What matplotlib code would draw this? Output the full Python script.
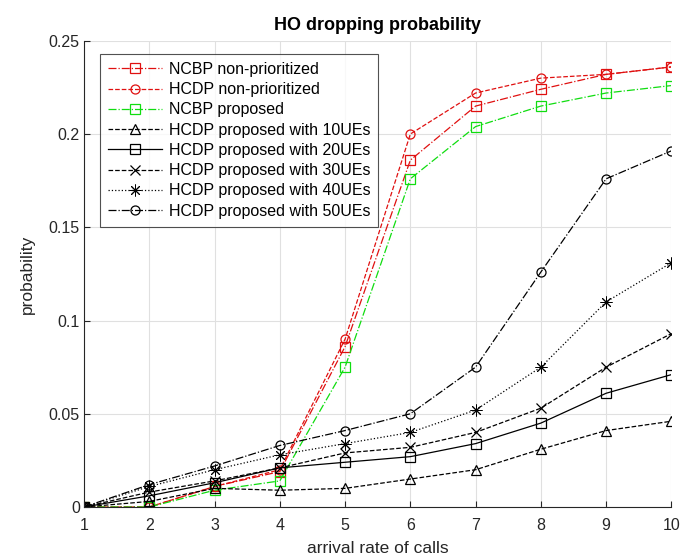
import matplotlib
matplotlib.use("Agg")
import matplotlib.pyplot as plt

plt.rcParams['font.family'] = ['Liberation Sans', 'DejaVu Sans']

x = [1, 2, 3, 4, 5, 6, 7, 8, 9, 10]
ncbp_nonprio = [0, 0.000, 0.011, 0.019, 0.086, 0.186, 0.215, 0.224, 0.232, 0.236]
hcdp_nonprio = [0, 0.000, 0.011, 0.020, 0.090, 0.200, 0.222, 0.230, 0.232, 0.236]
ncbp_prop = [0, 0.000, 0.009, 0.014, 0.075, 0.176, 0.204, 0.215, 0.222, 0.226]
hcdp_10 = [0, 0.003, 0.010, 0.009, 0.010, 0.015, 0.020, 0.031, 0.041, 0.046]
hcdp_20 = [0, 0.006, 0.013, 0.021, 0.024, 0.027, 0.034, 0.045, 0.061, 0.071]
hcdp_30 = [0, 0.008, 0.014, 0.021, 0.029, 0.032, 0.040, 0.053, 0.075, 0.093]
hcdp_40 = [0, 0.011, 0.020, 0.028, 0.034, 0.040, 0.052, 0.075, 0.110, 0.131]
hcdp_50 = [0, 0.012, 0.022, 0.033, 0.041, 0.050, 0.075, 0.126, 0.176, 0.191]

labels = ['NCBP non-prioritized', 'HCDP non-prioritized', 'NCBP proposed',
          'HCDP proposed with 10UEs', 'HCDP proposed with 20UEs',
          'HCDP proposed with 30UEs', 'HCDP proposed with 40UEs',
          'HCDP proposed with 50UEs']
xticks = [1, 2, 3, 4, 5, 6, 7, 8, 9, 10]
yticks = [0, 0.05, 0.1, 0.15, 0.2, 0.25]
yticklabels = ['0', '0.05', '0.1', '0.15', '0.2', '0.25']

fig = plt.figure(figsize=(6.83, 5.59), dpi=100)
ax = fig.add_axes([0.123, 0.093, 0.860, 0.834])

series = [ncbp_nonprio, hcdp_nonprio, ncbp_prop, hcdp_10, hcdp_20, hcdp_30, hcdp_40, hcdp_50]
asterisk = (8, 2, 0)
styles = [
    dict(color='#e01010', ls='-.', marker='s', ms=6.5, mew=0.9),
    dict(color='#e01010', ls='--', marker='o', ms=6.5, mew=0.9),
    dict(color='#10dd10', ls='-.', marker='s', ms=6.5, mew=0.9),
    dict(color='black', ls='--', marker='^', ms=6.5, mew=0.9),
    dict(color='black', ls='-', marker='s', ms=6.5, mew=0.9),
    dict(color='black', ls='--', marker='x', ms=7, mew=0.9),
    dict(color='black', ls=':', marker=asterisk, ms=8.5, mew=0.7),
    dict(color='black', ls='-.', marker='o', ms=6.5, mew=0.9),
]
for y, lab, st in zip(series, labels, styles):
    ax.plot(x, y, linestyle=st['ls'], color=st['color'], marker=st['marker'],
            markerfacecolor='none', markeredgecolor=st['color'], markersize=st['ms'],
            markeredgewidth=st['mew'], linewidth=0.9, label=lab)

ax.set_xlim(1, 10)
ax.set_ylim(0, 0.25)
ax.set_xticks(xticks)
ax.set_yticks(yticks)
ax.set_yticklabels(yticklabels)
ax.tick_params(direction='in', labelsize=11.5, colors='#262626', length=4)
ax.tick_params(axis='x', pad=8)
ax.tick_params(axis='y', pad=3)
ax.grid(True, color='#e0e0e0', linewidth=0.8)
ax.set_axisbelow(True)
ax.spines['top'].set_visible(False)
ax.spines['right'].set_visible(False)
ax.spines['left'].set_color('#262626')
ax.spines['bottom'].set_color('#262626')

ax.set_xlabel('arrival rate of calls', fontsize=12.5, color='#262626', labelpad=6)
ax.set_ylabel('probability', fontsize=12.5, color='#262626', labelpad=10)
ax.set_title('HO dropping probability', fontsize=13, fontweight='bold', pad=8)

leg = ax.legend(loc='upper left', bbox_to_anchor=(0.027, 0.972), fontsize=11.5,
                frameon=True, fancybox=False, edgecolor='#262626',
                borderaxespad=0.0, handlelength=3.4, labelspacing=0.33,
                borderpad=0.5, handletextpad=0.4)
leg.get_frame().set_linewidth(0.8)

fig.savefig('out.png', dpi=100)
